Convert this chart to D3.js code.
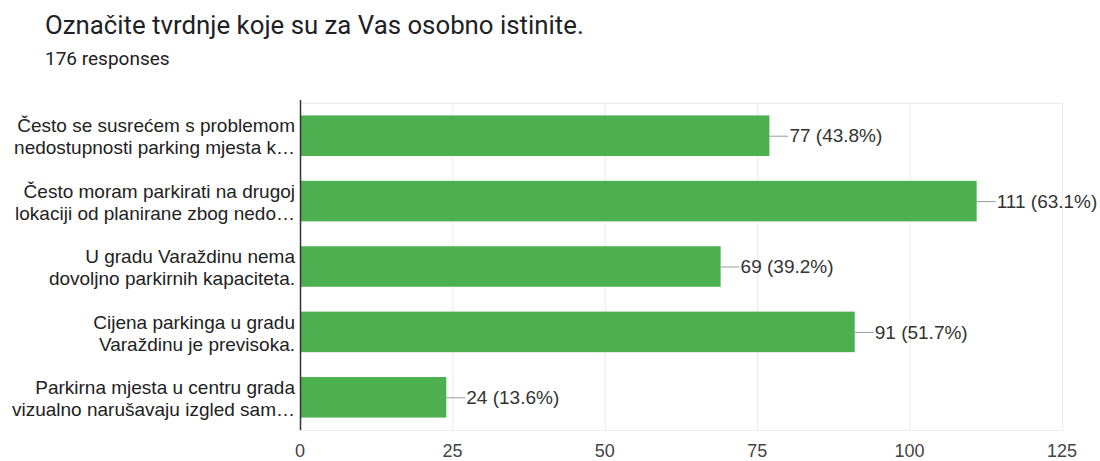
<!DOCTYPE html>
<html>
<head>
<meta charset="utf-8">
<script src="https://cdn.jsdelivr.net/npm/d3@7"></script>
<style>
  body { margin: 0; background: #fff; }
  .title { font-family: Roboto, "Liberation Sans", sans-serif; fill: #202124; }
  .sub { font-family: Roboto, "Liberation Sans", sans-serif; fill: #202124; }
  .chart text { font-family: "Liberation Sans", Arial, sans-serif; }
</style>
</head>
<body>
<div id="chart"></div>
<script>
// data
const categoryLines = [
    ["Često se susrećem s problemom", "nedostupnosti parking mjesta k…"],
    ["Često moram parkirati na drugoj", "lokaciji od planirane zbog nedo…"],
    ["U gradu Varaždinu nema", "dovoljno parkirnih kapaciteta."],
    ["Cijena parkinga u gradu", "Varaždinu je previsoka."],
    ["Parkirna mjesta u centru grada", "vizualno narušavaju izgled sam…"]
];
const counts = [77, 111, 69, 91, 24];
const percents = ["43.8%", "63.1%", "39.2%", "51.7%", "13.6%"];
const xTicks = [0, 25, 50, 75, 100, 125];

let width = 1100, height = 461;
let margin = {top: 103, right: 38, bottom: 31, left: 300};

let svg = d3.select("#chart").append("svg")
    .attr("width", width)
    .attr("height", height);

//title
svg.append("text")
    .attr("class", "title")
    .attr("x", 45)
    .attr("y", 34)
    .attr("font-size", "25.8px")
    .text("Označite tvrdnje koje su za Vas osobno istinite.");

svg.append("text")
    .attr("class", "sub")
    .attr("x", 45)
    .attr("y", 65)
    .attr("font-size", "19px")
    .text("176 responses");

let g = svg.append("g").attr("class", "chart");

let xScale = d3.scaleLinear()
    .domain([0, 125])
    .range([margin.left, width - margin.right]);

let yScale = d3.scaleBand()
    .domain(d3.range(counts.length))
    .range([margin.top, height - margin.bottom])
    .paddingInner(0.38)
    .paddingOuter(0.19);

// gridlines
g.append("g")
    .selectAll("line")
    .data(xTicks.slice(1))
    .enter()
    .append("line")
    .attr("x1", d => xScale(d) + 0.5)
    .attr("x2", d => xScale(d) + 0.5)
    .attr("y1", margin.top)
    .attr("y2", height - margin.bottom)
    .attr("stroke", "#ebebeb")
    .attr("stroke-width", 1);

// top & bottom border
g.append("line")
    .attr("x1", margin.left).attr("x2", xScale(125))
    .attr("y1", margin.top + 0.5).attr("y2", margin.top + 0.5)
    .attr("stroke", "#ebebeb");
g.append("line")
    .attr("x1", margin.left).attr("x2", xScale(125))
    .attr("y1", height - margin.bottom + 0.5).attr("y2", height - margin.bottom + 0.5)
    .attr("stroke", "#ebebeb");

// bars
g.append("g")
    .selectAll("rect")
    .data(counts)
    .enter()
    .append("rect")
    .attr("x", xScale(0))
    .attr("y", (d, i) => yScale(i))
    .attr("width", d => xScale(d) - xScale(0))
    .attr("height", yScale.bandwidth())
    .attr("fill", "#4caf50");

// value labels with connector
let lab = g.append("g")
    .selectAll("g")
    .data(counts)
    .enter()
    .append("g");

lab.append("line")
    .attr("x1", d => xScale(d))
    .attr("x2", d => xScale(d) + 19)
    .attr("y1", (d, i) => yScale(i) + yScale.bandwidth() / 2 + 0.5)
    .attr("y2", (d, i) => yScale(i) + yScale.bandwidth() / 2 + 0.5)
    .attr("stroke", "#999")
    .attr("stroke-width", 1);

lab.append("text")
    .attr("x", d => xScale(d) + 20)
    .attr("y", (d, i) => yScale(i) + yScale.bandwidth() / 2)
    .attr("dy", "0.35em")
    .attr("font-size", "19px")
    .attr("fill", "#333")
    .text((d, i) => d + " (" + percents[i] + ")");

// category labels
let cat = g.append("g")
    .selectAll("text")
    .data(categoryLines)
    .enter()
    .append("text")
    .attr("text-anchor", "end")
    .attr("font-size", "19px")
    .attr("fill", "#222");

cat.selectAll("tspan")
    .data((d, i) => d.map((t, j) => ({t: t, i: i, j: j})))
    .enter()
    .append("tspan")
    .attr("x", 295)
    .attr("y", d => yScale(d.i) + yScale.bandwidth() / 2 + (d.j === 0 ? -10 : 12))
    .attr("dy", "0.35em")
    .text(d => d.t);

// x tick labels
g.append("g")
    .selectAll("text")
    .data(xTicks)
    .enter()
    .append("text")
    .attr("x", d => xScale(d))
    .attr("y", height - margin.bottom + 21)
    .attr("dy", "0.35em")
    .attr("text-anchor", "middle")
    .attr("font-size", "18px")
    .attr("fill", "#444")
    .text(d => d);

// y axis line
g.append("line")
    .attr("x1", margin.left + 0.5)
    .attr("x2", margin.left + 0.5)
    .attr("y1", margin.top - 3)
    .attr("y2", height - margin.bottom)
    .attr("stroke", "#333")
    .attr("stroke-width", 1.5);
</script>
</body>
</html>
